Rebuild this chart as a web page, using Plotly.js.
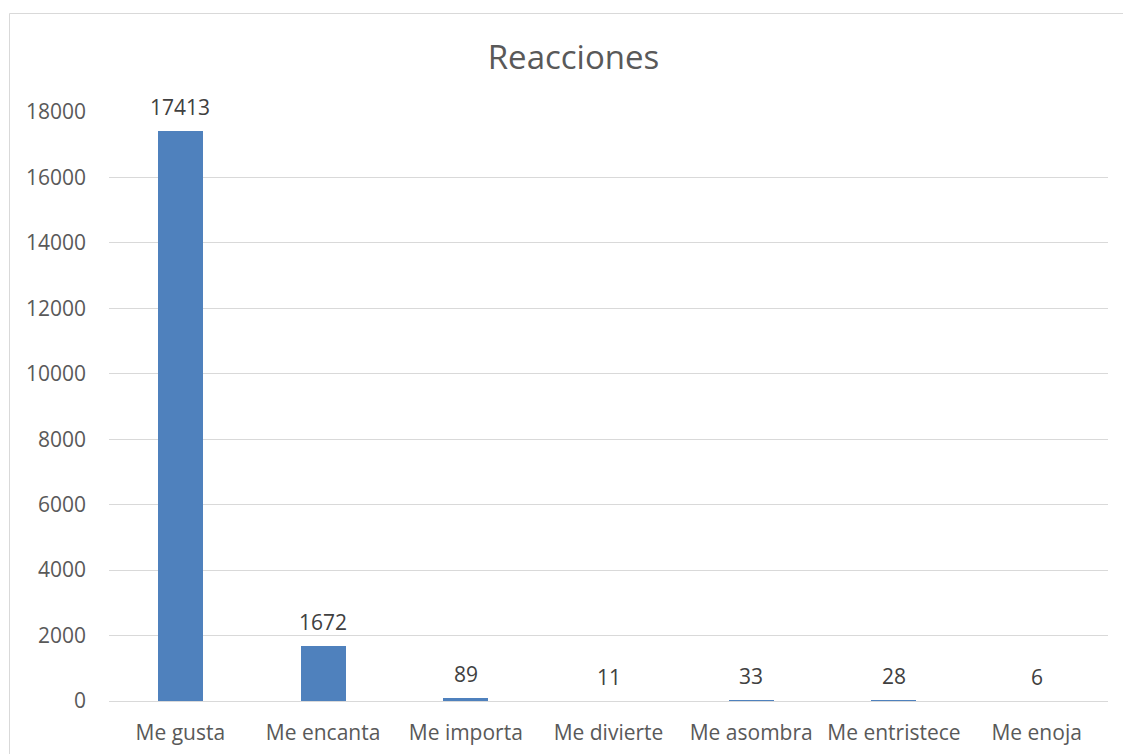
<!DOCTYPE html>
<html>
<head>
<meta charset="utf-8">
<script src="https://cdn.plot.ly/plotly-3.0.1.min.js"></script>
<style>
  html, body { margin: 0; padding: 0; background: #ffffff; }
  #chart { width: 1123px; height: 754px; }
</style>
</head>
<body>
<div id="chart"></div>
<script>
// Reaction counts per type
const categories = ["Me gusta", "Me encanta", "Me importa", "Me divierte", "Me asombra", "Me entristece", "Me enoja"];
const counts = [17413, 1672, 89, 11, 33, 28, 6];
const yTicks = [0, 2000, 4000, 6000, 8000, 10000, 12000, 14000, 16000, 18000];

const FONT = "Open Sans, Lato, sans-serif";
const W = 1123, H = 754;
const margin = { l: 109, r: 15, t: 112, b: 53 };
const plotW = W - margin.l - margin.r;
const plotH = H - margin.t - margin.b;

const trace = {
  type: "bar",
  x: categories,
  y: counts,
  width: 0.315,
  marker: { color: "#4f81bd", line: { width: 0 } },
  hoverinfo: "x+y"
};

// value labels above each bar
const labels = categories.map((c, i) => ({
  x: c,
  y: counts[i],
  xref: "x",
  yref: "y",
  text: String(counts[i]),
  showarrow: false,
  yanchor: "bottom",
  yshift: 8,
  font: { family: FONT, size: 21, color: "#404040" }
}));

const layout = {
  width: W,
  height: H,
  margin: margin,
  paper_bgcolor: "#ffffff",
  plot_bgcolor: "#ffffff",
  showlegend: false,
  bargap: 0,
  title: {
    text: "Reacciones",
    x: 573.5 / W,
    xref: "container",
    xanchor: "center",
    y: 1 - 57 / H,
    yanchor: "middle",
    yref: "container",
    font: { family: FONT, size: 33, color: "#595959" }
  },
  xaxis: {
    type: "category",
    showgrid: false,
    showline: false,
    zeroline: false,
    ticks: "",
    ticklabelstandoff: 17,
    tickfont: { family: FONT, size: 21, color: "#595959" },
    fixedrange: true
  },
  yaxis: {
    range: [0, 18000],
    tickvals: yTicks,
    ticktext: yTicks.map(String),
    showgrid: true,
    gridcolor: "#d9d9d9",
    gridwidth: 1,
    zeroline: true,
    zerolinecolor: "#d9d9d9",
    zerolinewidth: 1,
    showline: false,
    ticks: "",
    ticklabelstandoff: 22,
    tickfont: { family: FONT, size: 21, color: "#595959" },
    fixedrange: true
  },
  annotations: labels,
  shapes: [{
    // chart frame
    type: "rect",
    xref: "paper",
    yref: "paper",
    x0: (9.5 - margin.l) / plotW,
    x1: (W + 20 - margin.l) / plotW,
    y0: -(margin.b + 20) / plotH,
    y1: (H - margin.b - 13.5) / plotH,
    line: { color: "#d9d9d9", width: 1 },
    fillcolor: "rgba(0,0,0,0)",
    layer: "below"
  }]
};

Plotly.newPlot("chart", [trace], layout, { displayModeBar: false, staticPlot: true });
</script>
</body>
</html>
